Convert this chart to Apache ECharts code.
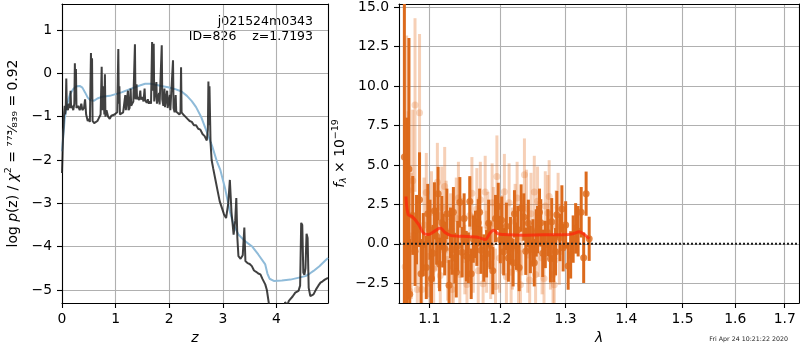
<!DOCTYPE html>
<html lang="en">
<head>
<meta charset="UTF-8">
<title>redshift fit</title>
<script src="https://cdn.jsdelivr.net/npm/echarts@6/dist/echarts.min.js"></script>
<style>
    * { margin: 0; padding: 0; }
    html, body { width: 800px; height: 350px; overflow: hidden; background: #fff; }
    #chart { width: 800px; height: 350px; }
</style>
</head>
<body>
<div id="chart"></div>
<script>
const FONT = 'DejaVu Sans';

// left panel: log p(z) and the prior-like smooth curve
const pzZ = [0.00, 0.01, 0.02, 0.03, 0.04, 0.05, 0.06, 0.07, 0.08, 0.09,
    0.11, 0.13, 0.15, 0.16, 0.17, 0.19, 0.21, 0.23, 0.24, 0.25,
    0.26, 0.27, 0.30, 0.33, 0.36, 0.38, 0.41, 0.43, 0.45, 0.48,
    0.50, 0.52, 0.54, 0.55, 0.56, 0.57, 0.60, 0.63, 0.66, 0.68,
    0.70, 0.72, 0.74, 0.75, 0.77, 0.79, 0.80, 0.81, 0.83, 0.86,
    0.89, 0.92, 0.95, 0.98, 1.01, 1.03, 1.05, 1.06, 1.07, 1.08,
    1.11, 1.14, 1.16, 1.18, 1.19, 1.21, 1.23, 1.24, 1.26, 1.28,
    1.29, 1.31, 1.33, 1.36, 1.37, 1.39, 1.40, 1.42, 1.44, 1.46,
    1.47, 1.50, 1.52, 1.54, 1.55, 1.58, 1.60, 1.62, 1.64, 1.66,
    1.68, 1.69, 1.71, 1.72, 1.74, 1.76, 1.77, 1.79, 1.81, 1.82,
    1.84, 1.86, 1.87, 1.89, 1.91, 1.92, 1.94, 1.96, 1.97, 1.99,
    2.01, 2.02, 2.05, 2.07, 2.08, 2.10, 2.12, 2.13, 2.16, 2.19,
    2.21, 2.22, 2.23, 2.26, 2.30, 2.34, 2.38, 2.42, 2.46, 2.50,
    2.54, 2.58, 2.62, 2.66, 2.70, 2.72, 2.73, 2.74, 2.75, 2.77,
    2.79, 2.82, 2.86, 2.90, 2.94, 2.98, 3.02, 3.06, 3.10, 3.13,
    3.16, 3.20, 3.23, 3.25, 3.27, 3.29, 3.33, 3.37, 3.40, 3.42,
    3.46, 3.50, 3.54, 3.58, 3.62, 3.66, 3.70, 3.74, 3.79, 3.82,
    3.85, 3.88, 3.95, 4.02, 4.08, 4.12, 4.16, 4.20, 4.23, 4.26,
    4.30, 4.35, 4.41, 4.44, 4.46, 4.48, 4.50, 4.52, 4.54, 4.56,
    4.58, 4.60, 4.63, 4.66, 4.69, 4.74, 4.78, 4.82, 4.86, 4.90,
    4.96];
const pzLog = [-2.30, -1.90, -1.45, -1.20, -0.90, -0.75, -0.95, -0.80, -0.12, -0.80,
    -0.85, -0.70, -0.80, -0.40, -0.80, -0.75, -0.85, -0.70, 0.23, -0.60,
    0.10, -0.80, -0.75, -0.85, -0.70, -0.85, -0.80, -0.60, -0.95, -1.10,
    -1.05, -1.12, 0.47, -0.60, 0.35, -1.10, -1.15, -1.12, -1.10, -1.05,
    -1.08, -0.95, 0.15, -0.85, -0.30, -0.95, -0.02, -1.00, -0.85, -1.00,
    -1.05, -0.98, -1.02, -0.95, -0.98, -0.90, 0.56, -0.70, -0.30, -0.95,
    -0.92, -0.90, -0.88, -0.50, -0.85, -0.85, -0.40, -0.85, -0.80, -0.35,
    -0.75, -0.70, -0.65, 0.67, -0.60, -0.25, -0.60, -0.55, -0.62, -0.40,
    -0.60, -0.55, -0.65, -0.35, -0.62, -0.68, -0.60, -0.70, -0.65, -0.70,
    0.72, -0.40, 0.68, -0.65, -0.68, -0.20, -0.70, -0.70, -0.45, -0.72,
    -0.70, 0.65, -0.60, -0.75, -0.35, -0.78, -0.80, -0.40, -0.80, -0.82,
    -0.50, -0.85, -0.85, 0.30, -0.80, -0.90, -0.50, -0.88, -0.92, -0.95,
    -0.90, 0.14, -0.90, -0.95, -1.00, -1.05, -1.10, -1.12, -1.20, -1.20,
    -1.28, -1.30, -1.40, -1.45, -1.55, -1.30, -0.19, -1.20, -0.30, -1.60,
    -2.00, -2.20, -2.45, -2.70, -2.95, -3.10, -3.25, -3.34, -3.00, -2.46,
    -3.20, -3.72, -3.40, -2.88, -3.80, -4.22, -4.28, -4.20, -3.56, -4.33,
    -4.38, -4.40, -4.45, -4.55, -4.58, -4.62, -4.64, -4.75, -4.87, -5.00,
    -5.25, -5.50, -5.70, -5.80, -5.70, -5.55, -5.28, -5.35, -5.25, -5.21,
    -5.15, -5.06, -5.02, -4.90, -3.45, -3.50, -4.60, -4.65, -4.50, -3.70,
    -3.80, -4.95, -5.14, -5.10, -5.10, -4.98, -4.90, -4.83, -4.80, -4.76,
    -4.72];
const priorZ = [0.00, 0.02, 0.05, 0.09, 0.15, 0.21, 0.27, 0.33, 0.38, 0.43,
    0.48, 0.53, 0.60, 0.66, 0.75, 0.89, 1.00, 1.11, 1.30, 1.45,
    1.55, 1.65, 1.73, 1.85, 1.98, 2.10, 2.23, 2.33, 2.42, 2.50,
    2.60, 2.70, 2.80, 2.89, 2.95, 3.04, 3.13, 3.20, 3.29, 3.40,
    3.54, 3.66, 3.79, 3.83, 3.87, 3.95, 4.10, 4.26, 4.40, 4.54,
    4.62, 4.69, 4.80, 4.90, 4.96];
const priorLog = [-1.80, -1.50, -1.05, -0.74, -0.48, -0.36, -0.30, -0.29, -0.33, -0.44,
    -0.56, -0.62, -0.63, -0.58, -0.54, -0.52, -0.48, -0.44, -0.35, -0.28,
    -0.24, -0.24, -0.26, -0.29, -0.32, -0.36, -0.42, -0.52, -0.64, -0.78,
    -1.02, -1.35, -1.68, -2.04, -2.22, -2.65, -3.19, -3.50, -3.72, -3.86,
    -3.99, -4.18, -4.41, -4.62, -4.74, -4.79, -4.78, -4.76, -4.72, -4.68,
    -4.62, -4.56, -4.45, -4.33, -4.26];
const zTicks = [0, 1, 2, 3, 4];
const pzTicks = [-5, -4, -3, -2, -1, 0, 1];

// right panel: grism spectrum (two sets of points) and the model
const lamDark = [1.067, 1.070, 1.073, 1.074, 1.078, 1.081, 1.083, 1.087, 1.089, 1.092,
    1.096, 1.098, 1.101, 1.103, 1.105, 1.107, 1.110, 1.112, 1.114, 1.117,
    1.119, 1.121, 1.124, 1.127, 1.129, 1.131, 1.133, 1.135, 1.137, 1.139,
    1.142, 1.145, 1.148, 1.151, 1.154, 1.156, 1.158, 1.161, 1.164, 1.166,
    1.168, 1.170, 1.172, 1.176, 1.180, 1.183, 1.185, 1.189, 1.193, 1.197,
    1.200, 1.202, 1.205, 1.209, 1.212, 1.215, 1.219, 1.221, 1.224, 1.226,
    1.228, 1.231, 1.235, 1.238, 1.242, 1.245, 1.249, 1.251, 1.254, 1.256,
    1.259, 1.261, 1.264, 1.268, 1.272, 1.276, 1.278, 1.281, 1.284, 1.286,
    1.291, 1.294, 1.296, 1.300, 1.304, 1.308, 1.312, 1.316, 1.320, 1.325,
    1.329, 1.333, 1.338];
const fluxDark = [5.5, 2.0, 4.75, -3.2, 1.8, -0.47, 0.9, 2.8, -1.9, -0.05,
    -1.5, 1.9, 0.9, -2.2, -0.6, 2.1, 0.48, 3.18, -1.3, 1.33,
    0.2, -0.3, 1.9, -2.63, 0.7, -0.36, 2.0, -0.9, -1.8, -0.15,
    2.63, -0.53, 1.6, -0.78, -0.88, 2.69, -1.9, 0.3, 0.6, 0.1,
    1.33, 2.0, -0.4, -0.9, -0.63, 1.3, -0.11, -1.7, 1.6, 2.37,
    0.27, 1.5, -0.5, 1.11, -0.9, 0.2, -1.2, 1.9, -0.15, 0.9,
    -1.5, 2.27, 1.7, -0.47, 1.3, -0.36, 0.06, -1.2, 0.69, 0.9,
    2.0, 1.33, -0.6, -0.04, 0.7, -0.95, 1.4, -0.93, -0.5, 1.85,
    0.4, 2.21, -0.25, 1.2, -1.41, -0.7, 0.3, 0.98, 0.8, 2.0,
    -0.88, 3.18, 0.32];
const errDark = [10.5, 6.0, 8.3, 3.5, 2.5, 2.2, 2.2, 3.0, 2.2, 2.0,
    2.0, 1.9, 1.9, 1.9, 1.8, 1.8, 1.8, 1.7, 1.7, 1.7,
    1.7, 1.7, 1.6, 1.6, 1.6, 1.6, 1.6, 1.6, 1.6, 1.6,
    1.6, 1.6, 1.6, 1.6, 1.6, 1.6, 1.6, 1.5, 1.5, 1.5,
    1.5, 1.5, 1.5, 1.5, 1.5, 1.5, 1.5, 1.5, 1.5, 1.5,
    1.5, 1.5, 1.5, 1.5, 1.5, 1.5, 1.5, 1.5, 1.5, 1.5,
    1.5, 1.5, 1.5, 1.5, 1.5, 1.5, 1.5, 1.5, 1.5, 1.5,
    1.5, 1.5, 1.5, 1.5, 1.5, 1.5, 1.5, 1.5, 1.5, 1.5,
    1.5, 1.5, 1.5, 1.5, 1.5, 1.5, 1.5, 1.6, 1.6, 1.6,
    1.6, 1.4, 1.4];
const lamLight = [1.068, 1.070, 1.072, 1.074, 1.076, 1.078, 1.081, 1.084, 1.087, 1.090,
    1.093, 1.096, 1.099, 1.101, 1.103, 1.106, 1.109, 1.111, 1.113, 1.115,
    1.117, 1.121, 1.123, 1.125, 1.129, 1.131, 1.133, 1.137, 1.140, 1.142,
    1.146, 1.149, 1.152, 1.156, 1.159, 1.161, 1.166, 1.168, 1.171, 1.175,
    1.178, 1.180, 1.182, 1.186, 1.188, 1.190, 1.193, 1.195, 1.199, 1.203,
    1.206, 1.209, 1.213, 1.216, 1.218, 1.222, 1.225, 1.227, 1.230, 1.232,
    1.236, 1.239, 1.241, 1.244, 1.246, 1.251, 1.253, 1.256, 1.258, 1.263,
    1.266, 1.268, 1.272, 1.274, 1.276, 1.280, 1.282, 1.285, 1.288, 1.290];
const fluxLight = [-1.45, 6.2, 3.4, -3.0, 0.5, 4.0, 8.8, -2.9, 8.3, -2.9,
    1.2, 3.26, -0.8, -2.5, 2.0, -1.6, 1.0, 3.9, -0.4, -2.0,
    2.3, 3.64, 1.7, -1.0, 0.8, -2.9, -1.5, 1.6, 2.9, -1.94,
    0.4, -1.0, -2.57, 1.8, 3.2, -0.6, 2.2, -1.7, 2.8, -2.53,
    3.28, -0.5, 0.9, -1.3, 2.6, 1.3, -2.7, 4.27, -0.9, 0.6,
    3.3, -2.08, 2.6, -1.8, -0.3, 1.4, 2.9, -1.6, -2.6, 0.4,
    4.38, 2.2, -0.7, -2.3, 1.9, 3.28, -1.94, 2.7, 0.3, -0.9,
    -2.2, 2.4, 1.96, 3.0, -0.4, -1.94, -2.6, 1.1, 2.3, -0.5];
const errLight = [4.0, 7.0, 5.0, 3.5, 4.0, 4.5, 5.5, 3.0, 5.0, 2.5,
    3.0, 2.5, 2.6, 2.4, 2.6, 2.3, 2.7, 2.5, 2.4, 2.2,
    2.6, 2.5, 2.3, 2.6, 2.4, 2.2, 2.5, 2.6, 2.3, 2.4,
    2.5, 2.2, 2.6, 2.4, 2.3, 2.5, 2.6, 2.2, 2.4, 2.5,
    2.3, 2.6, 2.4, 2.2, 2.5, 2.3, 2.4, 2.6, 2.2, 2.5,
    2.4, 2.3, 2.5, 2.2, 2.6, 2.4, 2.3, 2.5, 2.2, 2.4,
    2.3, 2.5, 2.4, 2.2, 2.6, 2.3, 2.5, 2.2, 2.4, 2.3,
    2.5, 2.2, 2.4, 2.3, 2.5, 2.2, 2.4, 2.3, 2.2, 2.1];
const modelLam = [1.069, 1.072, 1.077, 1.086, 1.092, 1.099, 1.105, 1.115, 1.121, 1.130,
    1.146, 1.167, 1.178, 1.185, 1.190, 1.197, 1.205, 1.235, 1.266, 1.297,
    1.311, 1.322, 1.330, 1.338];
const modelFlux = [3.0, 1.85, 1.74, 1.22, 0.69, 0.59, 0.73, 1.01, 0.73, 0.52,
    0.48, 0.42, 0.27, 0.69, 0.86, 0.63, 0.59, 0.55, 0.57, 0.57,
    0.63, 0.76, 0.59, 0.32];
const lamTicks = [1.1, 1.2, 1.3, 1.4, 1.5, 1.6, 1.7];
const fluxTicks = [-2.5, 0, 2.5, 5, 7.5, 10, 12.5, 15];

const zRange = [0, 4.96], pzRange = [-5.3, 1.6];
const lamRange = [1.06, 1.73], fluxRange = [-3.75, 15.2];

const minus = s => String(s).replace('-', '\u2212');
const tickFont = {fontFamily: FONT, fontSize: 13.9, color: '#000'};

function mainAxis(grid, pos, type, range, ticks, fmt, margin) {
    return {
        gridIndex: grid, type, position: pos, min: range[0], max: range[1],
        axisLine: {show: true, onZero: false, lineStyle: {color: '#000', width: 1.1}},
        axisTick: {show: true, inside: false, length: 5, customValues: ticks,
            lineStyle: {color: '#000', width: 1.1}},
        axisLabel: Object.assign({customValues: ticks, formatter: fmt, margin}, tickFont),
        splitLine: {show: true, lineStyle: {color: '#b0b0b0', width: 1.1}},
        minorTick: {show: false}
    };
}
function frameAxis(grid, pos, type, range) {
    return {
        gridIndex: grid, type, position: pos, min: range[0], max: range[1],
        axisLine: {show: true, onZero: false, lineStyle: {color: '#000', width: 1.1}},
        axisTick: {show: false}, axisLabel: {show: false}, splitLine: {show: false}
    };
}

const xLeft = mainAxis(0, 'bottom', 'value', zRange, zTicks, v => String(v), 9);
xLeft.name = 'z';
xLeft.nameLocation = 'middle';
xLeft.nameGap = 28;
xLeft.nameTextStyle = {fontFamily: FONT, fontSize: 13.9, fontStyle: 'italic', color: '#000'};

const yLeft = mainAxis(0, 'left', 'value', pzRange, pzTicks, v => minus(v), 10);
yLeft.name = 'log {i|p}(z) / {i|\u03c7}{s|2} = \u2077\u2077\u00b3\u2044\u2088\u2083\u2089 = 0.92';
yLeft.nameLocation = 'middle';
yLeft.nameGap = 40;
yLeft.nameTextStyle = {
    fontFamily: FONT, fontSize: 13.9, color: '#000', lineHeight: 18,
    rich: {
        i: {fontFamily: FONT, fontSize: 13.9, fontStyle: 'italic', color: '#000'},
        s: {fontFamily: FONT, fontSize: 9.5, color: '#000', verticalAlign: 'top'}
    }
};

const xRight = mainAxis(1, 'bottom', 'log', lamRange, lamTicks, v => v.toFixed(1), 9);
xRight.logBase = 10;
xRight.name = '\u03bb';
xRight.nameLocation = 'middle';
xRight.nameGap = 28;
xRight.nameTextStyle = {fontFamily: FONT, fontSize: 13.9, fontStyle: 'italic', color: '#000'};

const yRight = mainAxis(1, 'left', 'value', fluxRange, fluxTicks, v => minus(v.toFixed(1)), 10);
yRight.name = '{i|f}{b|\u03bb} \u00d7 10{t|\u221219}';
yRight.nameLocation = 'middle';
yRight.nameGap = 50;
yRight.nameTextStyle = {
    fontFamily: FONT, fontSize: 13.9, color: '#000', lineHeight: 18,
    rich: {
        i: {fontFamily: FONT, fontSize: 13.9, fontStyle: 'italic', color: '#000'},
        b: {fontFamily: FONT, fontSize: 9.5, fontStyle: 'italic', color: '#000', verticalAlign: 'bottom'},
        t: {fontFamily: FONT, fontSize: 9.5, color: '#000', verticalAlign: 'top'}
    }
};

const xTopRight = frameAxis(1, 'top', 'log', lamRange);
xTopRight.logBase = 10;

// vertical error bars, clamped to the visible flux range
function errorBars(color, width) {
    return function (params, api) {
        const x = api.value(0), f = api.value(1), e = api.value(2);
        let lo = Math.max(f - e, fluxRange[0]);
        let hi = Math.min(f + e, fluxRange[1]);
        if (lo >= hi) return null;
        const p1 = api.coord([x, lo]);
        const p2 = api.coord([x, hi]);
        return {
            type: 'line',
            shape: {x1: p1[0], y1: p1[1], x2: p2[0], y2: p2[1]},
            style: {stroke: color, lineWidth: width}
        };
    };
}

const DARK = 'rgb(220,106,28)';
const LIGHT = 'rgba(226,110,30,0.32)';

const chart = echarts.init(document.getElementById('chart'));
chart.setOption({
    animation: false,
    backgroundColor: '#fff',
    grid: [
        {left: 62, right: 472, top: 4, bottom: 46},
        {left: 399, right: 1, top: 4, bottom: 46}
    ],
    xAxis: [xLeft, frameAxis(0, 'top', 'value', zRange), xRight, xTopRight],
    yAxis: [yLeft, frameAxis(0, 'right', 'value', pzRange), yRight, frameAxis(1, 'right', 'value', fluxRange)],
    graphic: [
        {type: 'text', x: 313, y: 22, style: {text: 'j021524m0343', align: 'right', verticalAlign: 'middle',
            fontFamily: FONT, fontSize: 12.5, fill: '#000'}},
        {type: 'text', x: 313, y: 36.5, style: {text: 'ID=826    z=1.7193', align: 'right', verticalAlign: 'middle',
            fontFamily: FONT, fontSize: 12.5, fill: '#000'}},
        {type: 'text', x: 788, y: 339, style: {text: 'Fri Apr 24 10:21:22 2020', align: 'right', verticalAlign: 'middle',
            fontFamily: FONT, fontSize: 6.3, fill: '#222'}}
    ],
    series: [
        {
            type: 'line', xAxisIndex: 0, yAxisIndex: 0, showSymbol: false, silent: true,
            data: priorZ.map((z, i) => [z, priorLog[i]]),
            lineStyle: {color: '#8fbbd9', width: 2}, z: 2
        },
        {
            type: 'line', xAxisIndex: 0, yAxisIndex: 0, showSymbol: false, silent: true,
            data: pzZ.map((z, i) => [z, pzLog[i]]),
            lineStyle: {color: 'rgba(30,30,30,0.85)', width: 2}, z: 3
        },
        {
            type: 'custom', xAxisIndex: 2, yAxisIndex: 2, renderItem: errorBars(LIGHT, 3),
            encode: {x: 0, y: 1}, silent: true,
            data: lamLight.map((l, i) => [l, fluxLight[i], errLight[i]]), z: 2
        },
        {
            type: 'scatter', xAxisIndex: 2, yAxisIndex: 2, symbolSize: 7, silent: true,
            itemStyle: {color: LIGHT},
            data: lamLight.map((l, i) => [l, fluxLight[i]]), z: 2
        },
        {
            type: 'custom', xAxisIndex: 2, yAxisIndex: 2, renderItem: errorBars(DARK, 3),
            encode: {x: 0, y: 1}, silent: true,
            data: lamDark.map((l, i) => [l, fluxDark[i], errDark[i]]), z: 3
        },
        {
            type: 'scatter', xAxisIndex: 2, yAxisIndex: 2, symbolSize: 7, silent: true,
            itemStyle: {color: DARK},
            data: lamDark.map((l, i) => [l, fluxDark[i]]), z: 3
        },
        {
            type: 'line', xAxisIndex: 2, yAxisIndex: 2, showSymbol: false, smooth: 0.3, silent: true,
            data: modelLam.map((l, i) => [l, modelFlux[i]]),
            lineStyle: {color: 'rgba(255,35,10,0.72)', width: 3}, z: 4
        },
        {
            type: 'line', xAxisIndex: 2, yAxisIndex: 2, showSymbol: false, silent: true,
            data: [[lamRange[0], 0], [lamRange[1], 0]],
            lineStyle: {color: '#1a1a1a', width: 2, type: [2, 2]}, z: 5
        }
    ]
});
</script>
</body>
</html>
